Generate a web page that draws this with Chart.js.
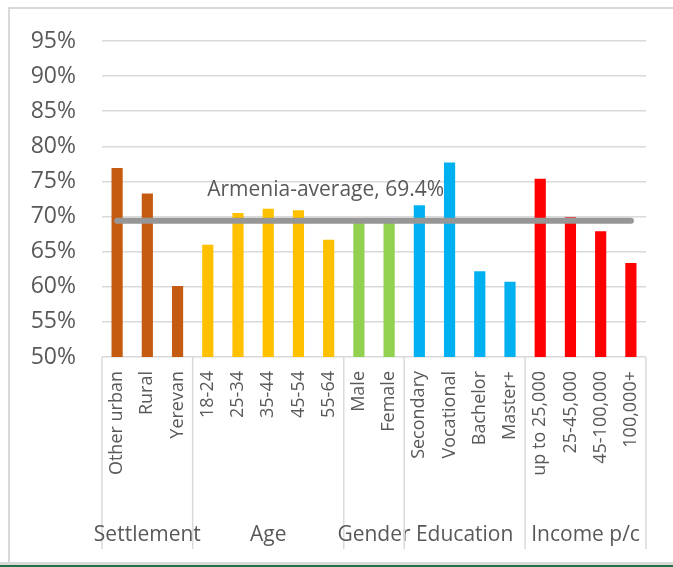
<!DOCTYPE html>
<html>
<head>
<meta charset="utf-8">
<script src="https://cdn.jsdelivr.net/npm/chart.js@4/dist/chart.umd.min.js"></script>
<style>
  html, body { margin: 0; padding: 0; background: #fff; }
  #wrap { width: 673px; height: 567px; }
</style>
</head>
<body>
<div id="wrap"><canvas id="graphic" width="673" height="567"></canvas></div>
<script>
// categories along the x axis
const labels = ['Other urban', 'Rural', 'Yerevan',
  '18-24', '25-34', '35-44', '45-54', '55-64',
  'Male', 'Female',
  'Secondary', 'Vocational', 'Bachelor', 'Master+',
  'up to 25,000', '25-45,000', '45-100,000', '100,000+'];

// share (%) per category
const values = [76.9, 73.3, 60.1,
  66.0, 70.5, 71.1, 70.9, 66.7,
  69.3, 69.5,
  71.6, 77.7, 62.2, 60.7,
  75.4, 69.9, 67.9, 63.4];

const groupNames = ['Settlement', 'Age', 'Gender', 'Education', 'Income p/c'];
const groupSizes = [3, 5, 2, 4, 4];
const groupColors = ['#C55A11', '#FFC000', '#92D050', '#00B0F0', '#FF0000'];

const average = 69.4;
const averageLabel = 'Armenia-average, 69.4%';

const yTicks = [50, 55, 60, 65, 70, 75, 80, 85, 90, 95];

const textColor = '#595959';
const fontFamily = '"Open Sans", sans-serif';

// one colour per bar, from its group
let barColors = [];
groupSizes.forEach(function (n, g) {
  for (let i = 0; i < n; i++) barColors.push(groupColors[g]);
});

const groupPlugin = {
  id: 'groups',
  beforeDraw: function (chart) {
    const ctx = chart.ctx;
    ctx.save();
    // outer frame like the spreadsheet chart box
    ctx.strokeStyle = '#d9d9d9';
    ctx.lineWidth = 2;
    ctx.beginPath();
    ctx.moveTo(9, 567);
    ctx.lineTo(9, 8);
    ctx.lineTo(673, 8);
    ctx.stroke();
    ctx.fillStyle = '#d9d9d9';
    ctx.fillRect(0, 562, 673, 3);
    ctx.fillStyle = '#217346';
    ctx.fillRect(0, 565, 673, 2);
    ctx.restore();
  },
  afterDraw: function (chart) {
    const ctx = chart.ctx;
    const x = chart.scales.x;
    const y = chart.scales.y;
    const area = chart.chartArea;
    ctx.save();

    // separators between the groups + group names
    ctx.strokeStyle = '#d9d9d9';
    ctx.lineWidth = 1.5;
    ctx.fillStyle = textColor;
    ctx.font = '21px ' + fontFamily;
    ctx.textAlign = 'center';
    ctx.textBaseline = 'alphabetic';
    let start = 0;
    groupSizes.forEach(function (n, g) {
      const x0 = x.getPixelForValue(start - 0.5);
      const x1 = x.getPixelForValue(start + n - 0.5);
      ctx.beginPath();
      ctx.moveTo(x0, area.bottom);
      ctx.lineTo(x0, 549);
      ctx.stroke();
      if (g === groupSizes.length - 1) {
        ctx.beginPath();
        ctx.moveTo(x1, area.bottom);
        ctx.lineTo(x1, 549);
        ctx.stroke();
      }
      ctx.fillText(groupNames[g], (x0 + x1) / 2, 541);
      start += n;
    });

    // label of the average line
    ctx.font = '21px ' + fontFamily;
    ctx.textAlign = 'center';
    ctx.textBaseline = 'middle';
    ctx.fillText(averageLabel, x.getPixelForValue(6.9), y.getPixelForValue(73.8));
    ctx.restore();
  }
};

let graphic = document.getElementById('graphic').getContext('2d');

var chart = new Chart(graphic, {
  type: 'bar',
  data: {
    labels: labels,
    datasets: [{
      type: 'line',
      label: 'Armenia-average',
      data: labels.map(function () { return average; }),
      borderColor: '#969696',
      borderWidth: 6,
      borderCapStyle: 'round',
      pointRadius: 0,
      fill: false,
      order: 0
    }, {
      label: 'Share',
      data: values,
      backgroundColor: barColors,
      categoryPercentage: 1,
      barPercentage: 0.37,
      order: 1
    }]
  },
  options: {
    responsive: false,
    animation: false,
    layout: { padding: { left: 0, right: 27, top: 41, bottom: 0 } },
    plugins: {
      legend: { display: false },
      tooltip: { enabled: false }
    },
    scales: {
      y: {
        min: 50,
        max: 95,
        afterFit: function (scale) { scale.width = 102; },
        afterBuildTicks: function (scale) {
          scale.ticks = yTicks.map(function (v) { return { value: v }; });
        },
        ticks: {
          padding: 26,
          color: textColor,
          font: { family: fontFamily, size: 23 },
          callback: function (v) { return v + '%'; }
        },
        grid: { color: '#d9d9d9', lineWidth: 1.5, drawTicks: false },
        border: { display: false }
      },
      x: {
        afterFit: function (scale) { scale.height = 210; },
        ticks: {
          minRotation: 90,
          maxRotation: 90,
          autoSkip: false,
          padding: 14,
          color: textColor,
          font: { family: fontFamily, size: 18 }
        },
        grid: { display: false, drawTicks: false },
        border: { display: false }
      }
    }
  },
  plugins: [groupPlugin]
});
</script>
</body>
</html>
